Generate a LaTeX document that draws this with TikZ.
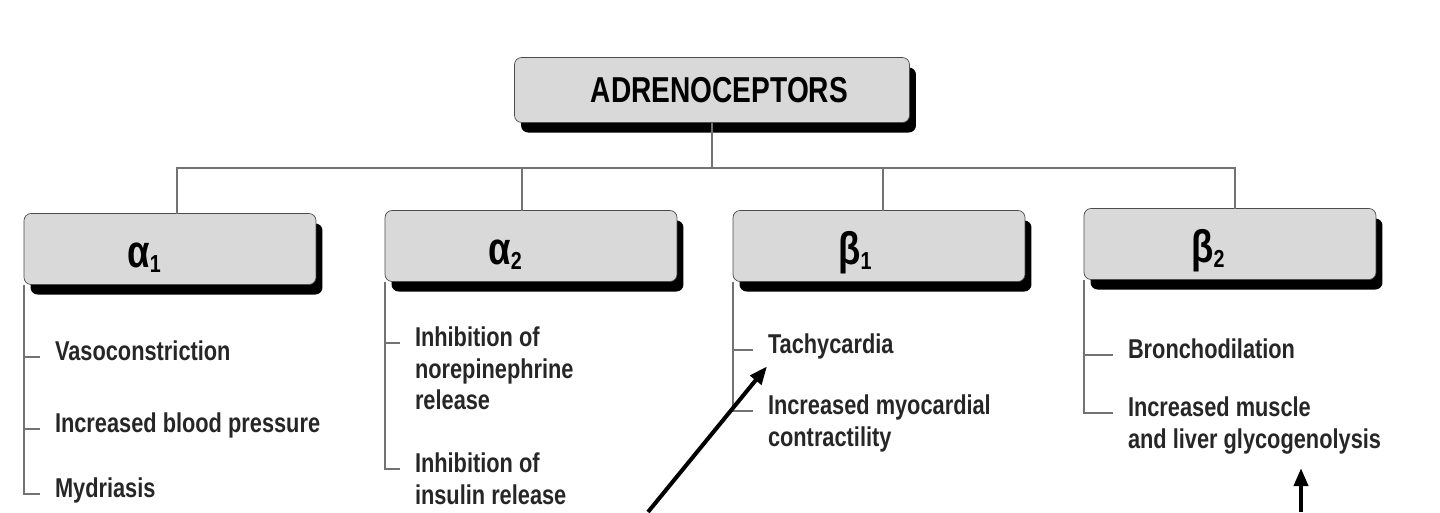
\documentclass[tikz,border=0pt]{standalone}
\usepackage{fontspec}
\setmainfont{Liberation Sans}
\newfontfamily\narrowfont[FakeStretch=0.8]{Liberation Sans}
\newfontfamily\headfont[FakeStretch=0.78]{Liberation Sans}
\usetikzlibrary{arrows.meta,shadows}
\newcommand{\recsub}[1]{\raisebox{-3pt}{\fontsize{14}{14}\selectfont #1}}
\begin{document}
\begin{tikzpicture}[x=0.02cm,y=-0.02cm,inner sep=0pt,outer sep=0pt,
recbox/.style={draw=black!70,fill=black!15,rounded corners=4pt,minimum width=5.84cm,minimum height=1.42cm,
  drop shadow={shadow xshift=0.13cm,shadow yshift=-0.2cm,opacity=1,fill=black}},
reclabel/.style={anchor=base,font=\narrowfont\bfseries\fontsize{26}{26}\selectfont},
effect/.style={anchor=north west,align=left,text=black!85,font=\narrowfont\bfseries\fontsize{15.5}{18}\selectfont},
link/.style={draw=black!55,line width=0.8pt},
cue/.style={line width=2.3pt,-{Triangle[length=0.36cm,width=0.28cm]}}]
\useasboundingbox (0,0) rectangle (1440,512);
\draw (712,90) node[recbox,minimum width=7.9cm,minimum height=1.3cm,font=\headfont\bfseries\fontsize{20.5}{20.5}\selectfont] (adr) {\hspace{0.3cm}ADRENOCEPTORS};
\draw (170,249) node[recbox] (a1) {};
\draw (531,246) node[recbox] (a2) {};
\draw (879,246) node[recbox] (b1) {};
\draw (1230,244) node[recbox] (b2) {};
\path (a1.center) ++(-26,18) node[reclabel] (a1txt) {α\recsub{1}};
\path (a2.center) ++(-26,18) node[reclabel] (a2txt) {α\recsub{2}};
\path (b1.center) ++(-24,18) node[reclabel] (b1txt) {β\recsub{1}};
\path (b2.center) ++(-22,18) node[reclabel] (b2txt) {β\recsub{2}};
\coordinate (bus) at (712,168);
\draw[link] (adr.south) -- (bus);
\foreach \r/\s in {a1/0.14cm,a2/-0.18cm,b1/0.08cm,b2/0.1cm} \draw[link] ([xshift=\s]\r.north) |- (bus);
\draw (55,341) node[effect] (vaso) {Vasoconstriction};
\draw (55,413) node[effect] (bp) {Increased blood pressure};
\draw (55,478) node[effect] (mydr) {Mydriasis};
\draw (415,327) node[effect] (nerel) {Inhibition of\\norepinephrine\\release};
\draw (415,453) node[effect] (insrel) {Inhibition of\\insulin release};
\draw (768,334) node[effect] (tachy) {Tachycardia};
\draw (768,395) node[effect] (myo) {Increased myocardial\\contractility};
\draw (1128,339) node[effect] (bron) {Bronchodilation};
\draw (1128,397) node[effect] (glyco) {Increased muscle\\and liver glycogenolysis};
\foreach \r/\e in {a1/vaso,a1/bp,a1/mydr,a2/nerel,a2/insrel,b1/tachy,b1/myo,b2/bron,b2/glyco}
  \draw[link] (\r.south west) |- ([xshift=-0.3cm,yshift=-0.32cm]\e.north west);
\coordinate (srcA) at (648,512);
\coordinate (srcB) at (1301,512);
\coordinate (tipB) at (srcB |- glyco.south);
\draw[cue] (srcA) -- ([xshift=-0.02cm,yshift=-0.14cm]tachy.south west);
\draw[cue] (srcB) -- ([yshift=-0.28cm]tipB);
\end{tikzpicture}
\end{document}
